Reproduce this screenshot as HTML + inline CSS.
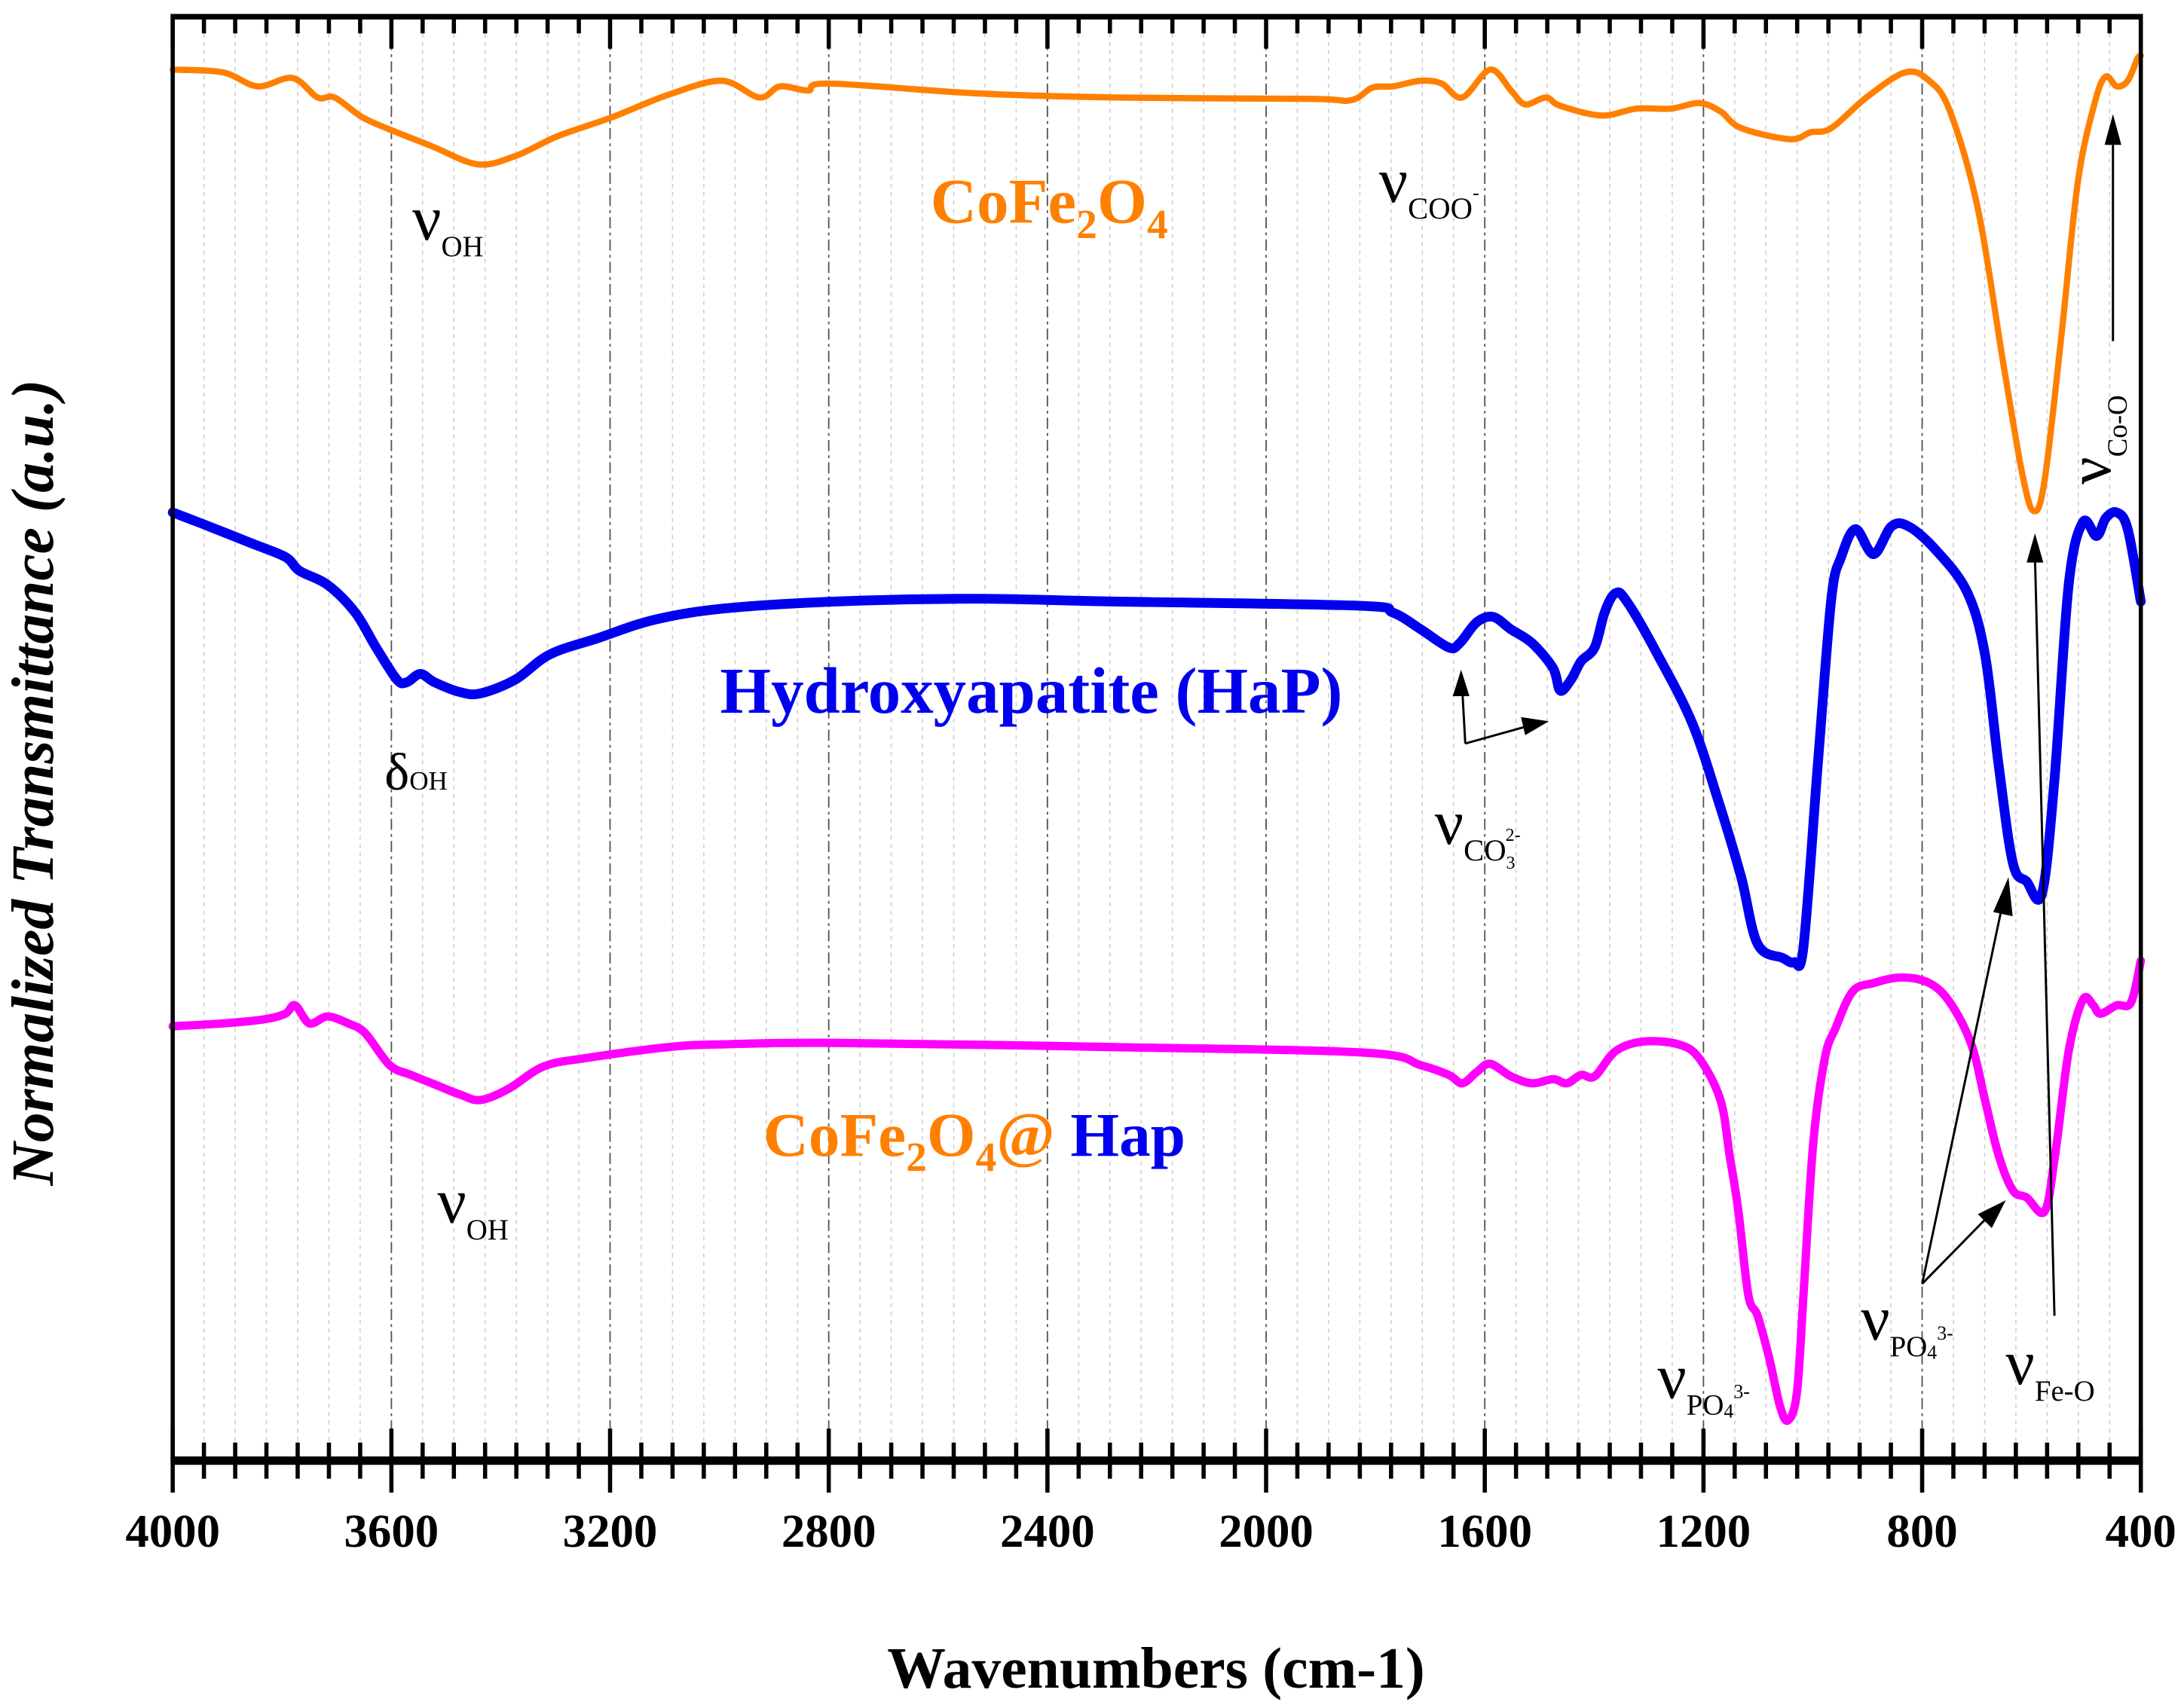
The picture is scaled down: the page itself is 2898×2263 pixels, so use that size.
<!DOCTYPE html>
<html><head><meta charset="utf-8"><style>
html,body{margin:0;padding:0;background:#fff;}
svg{display:block;font-family:"Liberation Serif",serif;}
</style></head><body>
<svg id="chart" width="2898" height="2263" viewBox="0 0 1568 1224.5" preserveAspectRatio="none" xmlns="http://www.w3.org/2000/svg">
<g id="grid"></g>
<g id="series"></g>
<g id="axes"></g>
<g id="annot">
  <text transform="translate(38,562) rotate(-90)" text-anchor="middle" font-size="43" font-weight="bold" font-style="italic">Normalized Transmittance (a.u.)</text>
  <text x="830" y="1212" text-anchor="middle" font-size="42" font-weight="bold">Wavenumbers (cm-1)</text>

  <text x="668" y="160" font-size="46" font-weight="bold" fill="#FF8000">CoFe<tspan font-size="30" dy="11">2</tspan><tspan dy="-11">O</tspan><tspan font-size="30" dy="11">4</tspan></text>
  <text x="517" y="512" font-size="47" font-weight="bold" fill="#0000EE">Hydroxyapatite (HaP)</text>
  <text x="548" y="830" font-size="45" font-weight="bold" fill="#FF8000">CoFe<tspan font-size="30" dy="11">2</tspan><tspan dy="-11">O</tspan><tspan font-size="30" dy="11">4</tspan><tspan dy="-11">@ </tspan><tspan fill="#0000EE">Hap</tspan></text>

  <text x="296" y="172" font-size="46">ν<tspan font-size="21" dy="12">OH</tspan></text>
  <text x="990" y="145" font-size="46">ν<tspan font-size="22" dy="12">COO</tspan><tspan font-size="14" dy="-14">-</tspan></text>
  <text x="276" y="567" font-size="38">δ<tspan font-size="19" dy="0">OH</tspan></text>
  <text x="1030" y="606" font-size="46">ν<tspan font-size="22" dy="12">CO</tspan><tspan font-size="13" dy="6">3</tspan><tspan font-size="13" dx="-7" dy="-20">2-</tspan></text>
  <text x="314" y="878" font-size="46">ν<tspan font-size="21" dy="12">OH</tspan></text>
  <text x="1190" y="1004" font-size="46">ν<tspan font-size="21" dy="12">PO</tspan><tspan font-size="14" dy="2">4</tspan><tspan font-size="14" dy="-14">3-</tspan></text>
  <text x="1336" y="962" font-size="46">ν<tspan font-size="21" dy="12">PO</tspan><tspan font-size="14" dy="2">4</tspan><tspan font-size="14" dy="-14">3-</tspan></text>
  <text x="1440" y="994" font-size="46">ν<tspan font-size="21" dy="12">Fe-O</tspan></text>
  <text transform="translate(1515,348) rotate(-90)" font-size="44">ν<tspan font-size="20" dy="12">Co-O</tspan></text>

  <g stroke="#000" stroke-width="1.6" fill="#000">
    <line x1="1380" y1="922" x2="1438" y2="648"/><polygon points="1442,630 1431,655 1445,658" stroke="none"/>
    <line x1="1380" y1="922" x2="1428" y2="873"/><polygon points="1440,862 1420,872 1430,882" stroke="none"/>
    <line x1="1475" y1="945" x2="1461" y2="400"/><polygon points="1461,383 1455,404 1467,404" stroke="none"/>
    <line x1="1517" y1="245" x2="1517" y2="100"/><polygon points="1517,82 1511,104 1523,104" stroke="none"/>
    <line x1="1052" y1="534" x2="1050" y2="498"/><polygon points="1049,481 1043,500 1055,500" stroke="none"/>
    <line x1="1052" y1="534" x2="1095" y2="522"/><polygon points="1112,518 1092,515 1095,528" stroke="none"/>
  </g>
</g>
<script>
// ---- data (wavenumber in cm-1, transmittance in arbitrary offset units) ----
const xTicks = [4000, 3600, 3200, 2800, 2400, 2000, 1600, 1200, 800, 400];
const xTickLabels = ["4000","3600","3200","2800","2400","2000","1600","1200","800","400"];

const cofeW = [4000,3908,3845,3781,3735,3704,3654,3603,3526,3442,3373,3297,3195,3093,2996,2927,2889,2838,2800,2532,2278,1921,1845,1806,1768,1717,1679,1641,1590,1552,1526,1488,1462,1386,1322,1259,1208,1169,1131,1042,1004,966,902,831,787,749,698,652,617,596,576,545,515,483,464,444,424,406,400];
const cofeT = [1050,1048,1038,1044,1030,1030,1016,1007,995,982,988,1002,1016,1032,1042,1030,1038,1035,1040,1033,1030,1029,1028,1037,1038,1042,1040,1030,1050,1035,1025,1030,1024,1017,1022,1022,1026,1020,1008,1000,1005,1008,1030,1048,1042,1020,950,840,760,733,755,860,970,1028,1045,1038,1042,1058,1060];

const hapW = [4000,3934,3857,3794,3768,3717,3666,3628,3590,3572,3547,3521,3475,3437,3373,3310,3220,3118,2991,2787,2532,2278,1832,1768,1717,1666,1646,1615,1585,1552,1513,1475,1462,1442,1424,1399,1381,1361,1340,1284,1220,1169,1131,1101,1055,1034,1017,991,966,948,922,889,856,825,775,718,685,660,634,609,581,558,532,506,481,464,444,424,400];
const hapT = [732,722,710,700,690,680,660,635,612,610,616,610,603,602,612,630,642,655,663,668,670,668,665,660,648,635,638,653,657,648,638,620,604,612,625,635,660,674,668,630,580,520,470,422,412,409,420,550,670,700,720,702,722,722,705,675,630,550,480,467,458,540,680,725,715,728,732,720,668];

const compW = [4000,3908,3832,3794,3776,3750,3717,3679,3648,3603,3564,3526,3475,3437,3386,3322,3246,3093,2991,2787,2278,1819,1717,1666,1641,1615,1590,1552,1513,1475,1450,1424,1399,1361,1310,1246,1208,1169,1152,1136,1118,1101,1080,1060,1045,1029,1017,999,978,958,927,889,838,787,749,710,685,660,634,609,576,557,532,506,487,474,444,418,400];
const compT = [363,365,368,372,378,365,370,365,358,335,328,322,314,310,318,334,340,348,350,351,348,344,335,328,322,330,336,327,322,325,322,328,327,345,352,350,340,310,270,230,170,155,125,90,80,100,170,280,340,362,388,394,398,394,380,350,310,270,245,240,230,270,345,382,378,372,378,380,410];

// ---- scales ----
const X0 = 124, X1 = 1537, YT = 12, YB = 1049;
function xScale(w){ return X0 + (4000 - w) / 3600 * (X1 - X0); }
function yScale(v){ return 1100 - v; }
const NS = "http://www.w3.org/2000/svg";
function mk(tag, attrs, parent){ const e = document.createElementNS(NS, tag); for (const k in attrs) e.setAttribute(k, attrs[k]); parent.appendChild(e); return e; }

const grid = document.getElementById('grid');
const axes = document.getElementById('axes');
const series = document.getElementById('series');

for (let i = 0; i < xTicks.length; i++) {
  const w = xTicks[i];
  const x = xScale(w);
  if (i > 0 && i < xTicks.length - 1) {
    const g = mk('line', {x1:x, y1:YT, x2:x, y2:YB, stroke:'#555', 'stroke-width':1, 'stroke-dasharray':'8,3,2,3'}, grid);
    
    
  }
  const tb = mk('line', {x1:x, y1:YB-23, x2:x, y2:YB+23, stroke:'#000', 'stroke-width':3}, axes);
  
  
  const tt = mk('line', {x1:x, y1:YT, x2:x, y2:YT+23, stroke:'#000', 'stroke-width':3}, axes);
  
  
  const lb = mk('text', {x:x, y:1111, 'text-anchor':'middle', 'font-size':34, 'font-weight':'bold'}, axes);
  lb.textContent = xTickLabels[i];
  
  
  if (i < xTicks.length - 1) {
    for (let j = 1; j < 7; j++) {
      const mx = xScale(w - j * (xTicks[i] - xTicks[i+1]) / 7);
      const gl = mk('line', {x1:mx, y1:YT, x2:mx, y2:YB, stroke:'#d0d0d0', 'stroke-width':0.9, 'stroke-dasharray':'3,3'}, grid);
      
      
      const mb = mk('line', {x1:mx, y1:YB-13, x2:mx, y2:YB+13, stroke:'#000', 'stroke-width':3}, axes);
      
      
      const mt = mk('line', {x1:mx, y1:YT, x2:mx, y2:YT+12, stroke:'#000', 'stroke-width':3}, axes);
      
      
    }
  }
}
const fl = mk('line', {x1:X0, y1:YT-2, x2:X0, y2:YB, stroke:'#000', 'stroke-width':3}, axes);
 
const fr = mk('line', {x1:X1, y1:YT-2, x2:X1, y2:YB, stroke:'#000', 'stroke-width':3}, axes);
 
const ft = mk('line', {x1:X0-1.5, y1:YT, x2:X1+1.5, y2:YT, stroke:'#000', 'stroke-width':4}, axes);
 
const fb = mk('line', {x1:X0-1.5, y1:YB, x2:X1+1.5, y2:YB, stroke:'#000', 'stroke-width':6}, axes);
 

function pathFrom(ws, ts){
  const p = ws.map((w, i) => [xScale(w), yScale(ts[i])]);
  let d = 'M' + p[0][0].toFixed(1) + ',' + p[0][1].toFixed(1);
  for (let i = 0; i < p.length - 1; i++) {
    const p0 = p[Math.max(0, i-1)], p1 = p[i], p2 = p[i+1], p3 = p[Math.min(p.length-1, i+2)];
    const c1x = p1[0] + (p2[0]-p0[0])/6, c1y = p1[1] + (p2[1]-p0[1])/6;
    const c2x = p2[0] - (p3[0]-p1[0])/6, c2y = p2[1] - (p3[1]-p1[1])/6;
    d += ' C' + c1x.toFixed(1) + ',' + c1y.toFixed(1) + ' ' + c2x.toFixed(1) + ',' + c2y.toFixed(1) + ' ' + p2[0].toFixed(1) + ',' + p2[1].toFixed(1);
  }
  return d;
}
const s1 = mk('path', {d:pathFrom(cofeW, cofeT), fill:'none', stroke:'#FF8000', 'stroke-width':4.5, 'stroke-linejoin':'round', 'stroke-linecap':'round'}, series);


const s2 = mk('path', {d:pathFrom(hapW, hapT), fill:'none', stroke:'#0000EE', 'stroke-width':7, 'stroke-linejoin':'round', 'stroke-linecap':'round'}, series);


const s3 = mk('path', {d:pathFrom(compW, compT), fill:'none', stroke:'#FF00FF', 'stroke-width':6, 'stroke-linejoin':'round', 'stroke-linecap':'round'}, series);


</script>
</svg>
</body></html>
